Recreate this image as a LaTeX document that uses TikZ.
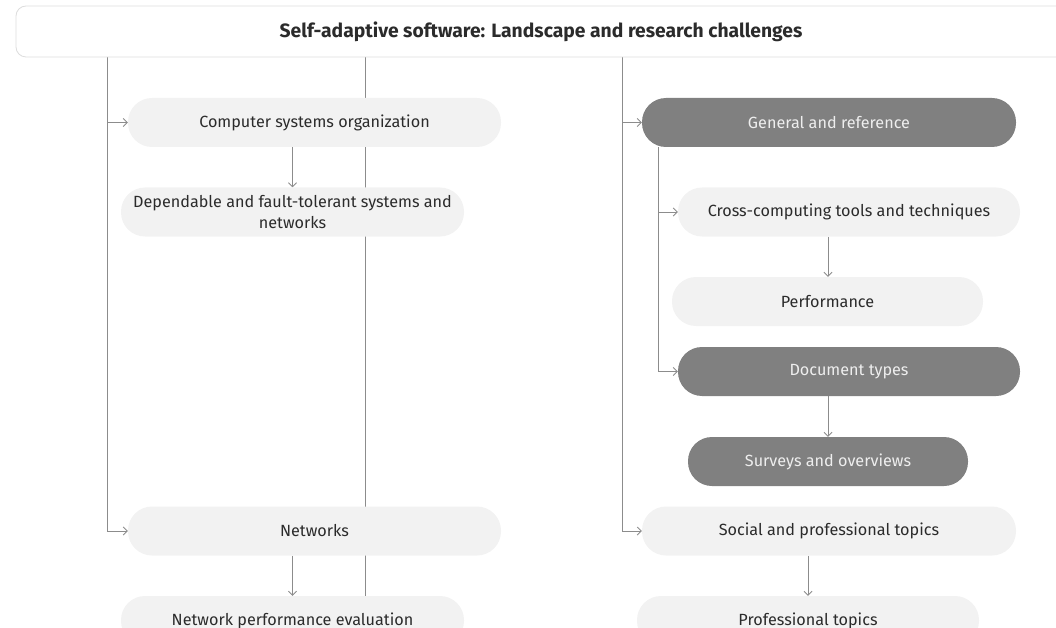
\documentclass[tikz,border=0pt]{standalone}
\usepackage{fontspec}
\setmainfont{Fira Sans}
\usetikzlibrary{arrows.meta,backgrounds}
\definecolor{lightfill}{HTML}{F2F2F2}
\definecolor{darkfill}{HTML}{808080}
\definecolor{darktxt}{HTML}{EEEEEE}
\definecolor{txt}{HTML}{2B2B2B}
\definecolor{linec}{HTML}{8C8C8C}
\definecolor{boxline}{HTML}{DDDDDD}
\begin{document}
\begin{tikzpicture}[x=1pt,y=-1pt,
  pill/.style={rectangle, rounded corners=24pt, minimum height=49pt, inner sep=0pt,
    align=center, font=\fontsize{16.2}{21}\selectfont, text=txt},
  light/.style={pill, fill=lightfill},
  dark/.style={pill, fill=darkfill, text=darktxt},
  titlebox/.style={rectangle, rounded corners=10pt, draw=boxline, line width=0.8pt, fill=white,
    minimum width=1080pt, minimum height=51pt, inner sep=0pt},
  titletxt/.style={font=\bfseries\fontsize{19.3}{22}\selectfont, text=txt},
  conn/.style={draw=linec, line width=0.8pt},
  arr/.style={conn, -{Straight Barb[length=4pt,width=8pt]}}
]
\useasboundingbox (0,0) rectangle (1056,628);
% title
\node[titlebox] (title) at (556,31.5) {};
\node[titletxt] (titletext) at (541,32) {Self-adaptive software: Landscape and research challenges};
% coordinates on title bottom
\coordinate (tA) at (107,57);
\coordinate (tB) at (365,57);
\coordinate (tC) at (622,57);
% nodes
\node[light, minimum width=373pt] (cso) at (314.5,122.5) {Computer systems organization};
\node[light, minimum width=343pt] (dep) at (292.5,212) {Dependable and fault-tolerant systems and\\networks};
\node[light, minimum width=373pt] (net) at (314.5,531) {Networks};
\node[light, minimum width=343pt] (npe) at (292.5,620.5) {Network performance evaluation};
\node[dark, minimum width=374pt] (gen) at (829,122.5) {General and reference};
\node[light, minimum width=342pt] (cct) at (849,212) {Cross-computing tools and techniques};
\node[light, minimum width=311pt] (perf) at (827.5,301.5) {Performance};
\node[dark, minimum width=342pt] (doc) at (849,371.5) {Document types};
\node[dark, minimum width=280pt] (sur) at (828,461.5) {Surveys and overviews};
\node[light, minimum width=374pt] (spt) at (829,531) {Social and professional topics};
\node[light, minimum width=342pt] (pt) at (808,620.5) {Professional topics};
% connectors
\begin{scope}[on background layer]
\draw[arr] (tA) |- (cso.west);
\draw[arr] (tA) |- (net.west);
\draw[conn] (tB) -- (tB |- npe.north);
\draw[arr] (tC) |- (gen.west);
\draw[arr] (tC) |- (spt.west);
\draw[arr] ([xshift=-171pt]gen.south) coordinate (g1) |- (cct.west);
\draw[arr] (g1) |- (doc.west);
\draw[arr] (cso.south -| dep.north) -- (dep.north);
\draw[arr] (net.south -| npe.north) -- (npe.north);
\draw[arr] (cct.south -| 828,0) -- (perf.north -| 828,0);
\draw[arr] (doc.south -| 828,0) -- (sur.north);
\draw[arr] (spt.south -| pt.north) -- (pt.north);
\end{scope}
\end{tikzpicture}
\end{document}
